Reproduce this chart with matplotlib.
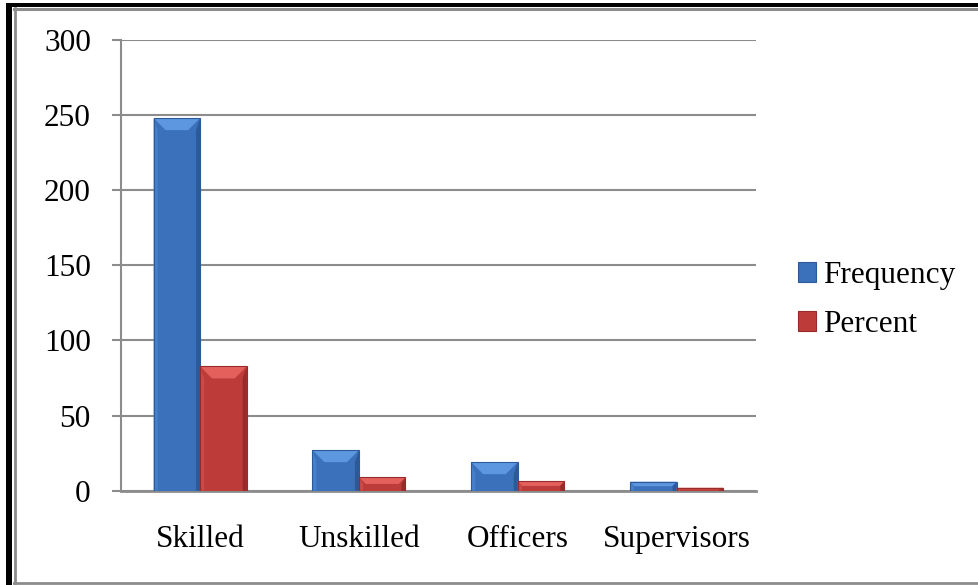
import numpy as np
import matplotlib
matplotlib.use("Agg")
import matplotlib.pyplot as plt
from matplotlib.patches import Polygon, Rectangle
from matplotlib.lines import Line2D

categories = ["Skilled", "Unskilled", "Officers", "Supervisors"]
frequency = [248, 27, 19, 6]
percent = [82.7, 9.0, 6.3, 2.0]
series_names = ["Frequency", "Percent"]
yticks = [0, 50, 100, 150, 200, 250, 300]

# face, top bevel, left side, right side
blue = ("#3b71ba", "#5c97df", "#4680cc", "#2c5a98")
red = ("#bd3c39", "#e4605d", "#cc4a47", "#962b29")

plt.rcParams["font.family"] = ["Liberation Serif", "DejaVu Serif"]
W, H, DPI = 979, 585, 100
FS = 22.5
fig = plt.figure(figsize=(W / DPI, H / DPI), dpi=DPI)

# outer frame like the pasted chart
fig.add_artist(Rectangle((6 / W, 0), 6 / W, (H - 3) / H, transform=fig.transFigure,
                         color="black", lw=0))
fig.add_artist(Rectangle((6 / W, (H - 7) / H), 1 - 6 / W, 4 / H, transform=fig.transFigure,
                         color="black", lw=0))
fig.add_artist(Line2D([15 / W, 15 / W], [2 / H, (H - 8) / H], transform=fig.transFigure,
                      color="#8c8c8c", lw=2))
fig.add_artist(Line2D([14 / W, 1], [(H - 8.5) / H, (H - 8.5) / H], transform=fig.transFigure,
                      color="#8c8c8c", lw=2.2))
fig.add_artist(Line2D([14 / W, 1], [2 / H, 2 / H], transform=fig.transFigure,
                      color="#8c8c8c", lw=2))

left, right, top, bottom = 120.7, 756, 40, 490.7
ax = fig.add_axes([left / W, (H - bottom) / H, (right - left) / W, (bottom - top) / H])

x = np.arange(len(categories))
bw = 0.293
ax.set_xlim(-0.5, len(categories) - 0.5)
ax.set_ylim(0, 300)

# pixels per data unit
px_x = (right - left) / len(categories)
px_y = (bottom - top) / 300.0


def bevel_bar(xc, h, colors):
    face, light, lside, rside = colors
    x0, x1 = xc - bw / 2, xc + bw / 2
    ax.add_patch(Rectangle((x0, 0), bw, h, facecolor=face, edgecolor="none", zorder=3))
    d_y = min(12 / px_y, h / 2)
    d_x = min(12 / px_x, bw / 2) * (d_y / (12 / px_y))
    s_x = 4 / px_x
    # left / right side shading
    ax.add_patch(Polygon([(x0, 0), (x0 + s_x, 0), (x0 + s_x, h - d_y), (x0, h)],
                         facecolor=lside, edgecolor="none", zorder=3))
    ax.add_patch(Polygon([(x1, 0), (x1 - s_x, 0), (x1 - s_x, h - d_y), (x1, h)],
                         facecolor=rside, edgecolor="none", zorder=3))
    # top bevel
    ax.add_patch(Polygon([(x0, h), (x1, h), (x1 - d_x, h - d_y), (x0 + d_x, h - d_y)],
                         facecolor=light, edgecolor="none", zorder=4))
    ax.add_patch(Rectangle((x0, 0), bw, h, facecolor="none", edgecolor=rside,
                           lw=0.8, zorder=5))


for i in range(len(categories)):
    bevel_bar(x[i] - bw / 2, frequency[i], blue)
    bevel_bar(x[i] + bw / 2, percent[i], red)

ax.set_yticks(yticks)
ax.yaxis.grid(True, color="#8c8c8c", lw=1.5)
ax.set_axisbelow(True)
for s in ["top", "right"]:
    ax.spines[s].set_visible(False)
ax.spines["left"].set_color("#8c8c8c")
ax.spines["left"].set_linewidth(1.5)
ax.spines["bottom"].set_color("#8c8c8c")
ax.spines["bottom"].set_linewidth(2)
ax.tick_params(axis="y", length=6.5, width=1.5, color="#8c8c8c", pad=15, labelsize=FS)
ax.tick_params(axis="x", length=0, pad=25, labelsize=FS)
ax.set_xticks(x)
ax.set_xticklabels(categories)

handles = [Rectangle((0, 0), 1, 1, facecolor=blue[0], edgecolor=blue[3], lw=0.8),
           Rectangle((0, 0), 1, 1, facecolor=red[0], edgecolor=red[3], lw=0.8)]
fig.legend(handles, series_names, loc="center left", bbox_to_anchor=(798 / W, 1 - 300 / H),
           frameon=False, fontsize=FS, handlelength=0.58, handleheight=0.58,
           handletextpad=0.22, labelspacing=0.65, borderpad=0, borderaxespad=0)

fig.savefig("out.png", dpi=DPI)
